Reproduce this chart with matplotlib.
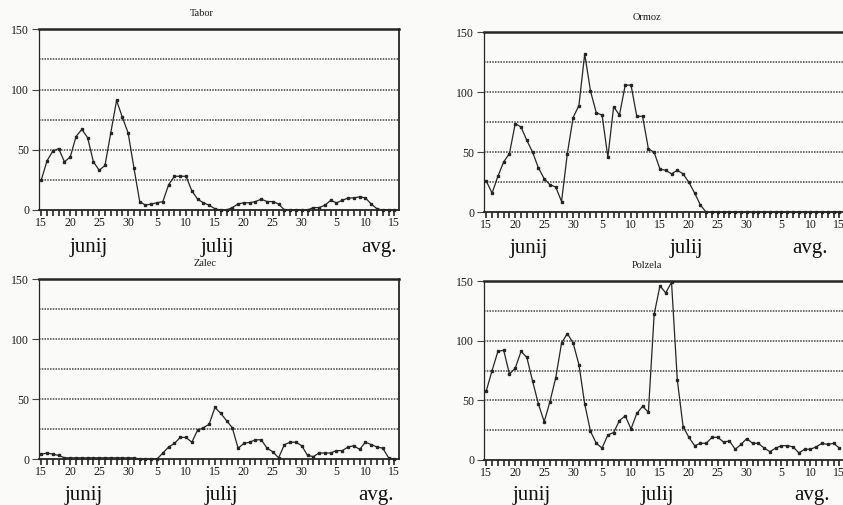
import matplotlib
matplotlib.use("Agg")
import matplotlib.pyplot as plt
import numpy as np
import pandas as pd

# daily counts, 15 June - 15 August
dates = pd.date_range("2000-06-15", "2000-08-15", freq="D")

tabor = [25, 41, 49, 51, 40, 44, 61, 67, 60, 40,
         33, 37, 64, 91, 77, 64, 35, 7, 4, 5,
         6, 7, 21, 28, 28, 28, 16, 9, 6, 4,
         1, 0, 0, 2, 5, 6, 6, 7, 9, 7,
         7, 5, 0, 0, 0, 0, 0, 2, 2, 4,
         8, 6, 8, 10, 10, 11, 10, 5, 1, 0,
         0, 0]
ormoz = [26, 16, 30, 42, 49, 74, 71, 60, 50, 37,
         28, 23, 21, 9, 49, 79, 89, 132, 101, 83,
         81, 46, 88, 81, 106, 106, 80, 80, 53, 50,
         36, 35, 32, 35, 32, 25, 16, 6, 0, 0,
         0, 0, 0, 0, 0, 0, 0, 0, 0, 0,
         0, 0, 0, 0, 0, 0, 0, 0, 0, 0,
         0, 0]
zalec = [4, 5, 4, 3, 1, 1, 1, 1, 1, 1,
         1, 1, 1, 1, 1, 1, 1, 0, 0, 0,
         0, 5, 10, 13, 18, 18, 14, 24, 26, 29,
         43, 38, 32, 26, 9, 13, 14, 16, 16, 9,
         6, 1, 12, 14, 14, 11, 3, 2, 5, 5,
         5, 7, 7, 10, 11, 8, 14, 12, 10, 9,
         1, 0]
polzela = [58, 75, 91, 92, 72, 77, 91, 86, 66, 47,
           32, 49, 69, 98, 106, 98, 80, 47, 24, 14,
           10, 21, 23, 33, 37, 26, 39, 45, 40, 122,
           146, 140, 149, 67, 28, 19, 12, 14, 14, 19,
           19, 15, 16, 9, 13, 18, 14, 14, 10, 7,
           10, 12, 12, 11, 6, 9, 9, 11, 14, 13,
           14, 10]

months = ["junij", "julij", "avg."]

W, H = 843, 505
SERIF = "Liberation Serif"
INK = "#262626"
BG = "#fafaf8"


def rect(left, right, top, bottom):
    return [left / W, 1 - bottom / H, (right - left) / W, (bottom - top) / H]


def panel(fig, box, values, title, title_xy, month_xs, month_base):
    ax = fig.add_axes(rect(*box))
    ax.set_facecolor(BG)
    x = np.arange(len(dates))

    for level in (25, 50, 75, 100, 125):
        ax.axhline(level, color="#444444", lw=1.1, ls=(0, (1, 0.8)), zorder=1)

    ax.plot(x, values, color=INK, lw=0.9, marker="s", ms=1.8,
            clip_on=False, zorder=3)

    ax.set_xlim(-0.4, 61.8)
    ax.set_ylim(0, 150)

    major = [i for i, d in enumerate(dates) if d.day % 5 == 0]
    ax.set_xticks(major)
    ax.set_xticklabels([str(dates[i].day) for i in major],
                       family=SERIF, fontsize=8.5, color="#1a1a1a")
    ax.set_xticks(x, minor=True)
    ax.tick_params(axis="x", which="both", direction="out", length=4,
                   width=1.2, color=INK, pad=1)

    ax.set_yticks([0, 50, 100, 150])
    ax.set_yticklabels(["0", "50", "100", "150"], family=SERIF,
                       fontsize=8.5, color="#1a1a1a")
    ax.tick_params(axis="y", direction="out", length=5, width=0.8,
                   color="#444", pad=2)

    ax.spines["top"].set_linewidth(1.8)
    ax.spines["bottom"].set_linewidth(1.3)
    ax.spines["left"].set_linewidth(0.9)
    ax.spines["right"].set_linewidth(1.3)
    for s in ax.spines.values():
        s.set_color(INK)

    fig.text(title_xy[0] / W, 1 - title_xy[1] / H, title, family=SERIF,
             fontsize=7.5, ha="center", va="center", color="#1a1a1a")
    for name, mx in zip(months, month_xs):
        fig.text(mx / W, 1 - month_base / H, name, family=SERIF,
                 fontsize=15, ha="center", va="baseline", color="#111")
    return ax


fig = plt.figure(figsize=(W / 100, H / 100), dpi=100, facecolor=BG)

panel(fig, (39, 399, 29.3, 210), tabor, "Tabor", (202, 14),
      (89, 217, 379), 252)
panel(fig, (484, 844, 32.3, 212.3), ormoz, "Ormoz", (647, 17),
      (529, 686, 810), 253)
panel(fig, (39, 399, 279, 459), zalec, "Zalec", (205, 264),
      (84, 221, 376), 500)
panel(fig, (484, 844, 281, 460), polzela, "Polzela", (647, 266),
      (532, 657, 812), 500)

fig.savefig("out.png", dpi=100, facecolor=BG)
